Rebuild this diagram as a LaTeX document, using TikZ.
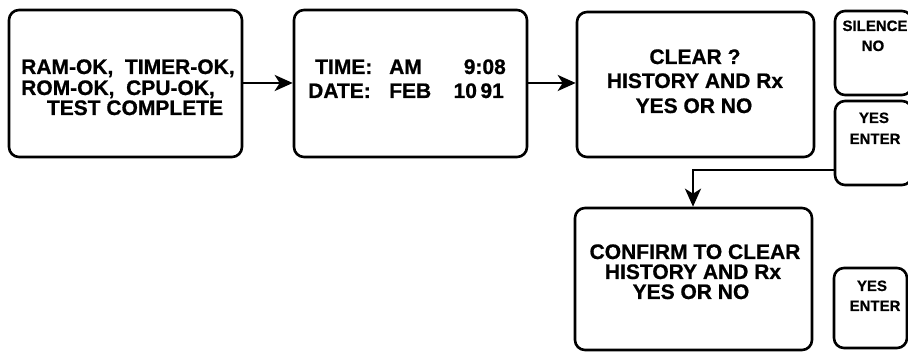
\documentclass[tikz,border=0pt]{standalone}
\usepackage{fontspec}
\newfontfamily\lblfont[FakeBold=0.8]{Liberation Sans Bold}
\usetikzlibrary{arrows.meta}
\tikzset{
  box/.style={draw, line width=2.6pt, rounded corners=10pt, inner sep=0pt},
  txt/.style={inner sep=0pt, font=\lblfont\fontsize{21}{22}\selectfont},
  stxt/.style={inner sep=0pt, font=\lblfont\fontsize{15}{16}\selectfont},
  arr/.style={line width=2.6pt, -{Stealth[length=18pt,width=16pt,inset=5pt]}}
}
\begin{document}
\begin{tikzpicture}[x=1pt,y=-1pt]
\useasboundingbox (0,0) rectangle (908,352);
\clip (0,0) rectangle (908,352);
% boxes
\node[box, minimum width=233pt, minimum height=147pt] (b1) at (125.5,83.5) {};
\node[box, minimum width=233pt, minimum height=147pt] (b2) at (410.5,83.5) {};
\node[box, minimum width=237pt, minimum height=145pt] (b3) at (695.5,84.5) {};
\node[box, minimum width=237pt, minimum height=142pt] (b4) at (693.5,279) {};
\node[box, minimum width=77pt, minimum height=84pt] (s1) at (873.5,53) {};
\node[box, minimum width=77pt, minimum height=84pt] (s2) at (873.5,143) {};
\node[box, minimum width=73pt, minimum height=80pt] (s3) at (870.5,308) {};
% box 1 text
\node[txt, anchor=base west] (t11) at (21,74) {RAM-OK,\ \ TIMER-OK,};
\node[txt, anchor=base west] (t12) at (21,95) {ROM-OK,\ \ CPU-OK,};
\node[txt, anchor=base] (t13) at (135,115) {TEST COMPLETE};
% box 2 text
\node[txt, anchor=base west] (t21) at (315,74) {TIME:};
\node[txt, anchor=base west] (t22) at (389,74) {AM};
\node[txt, anchor=base east] (t23) at (506,74) {9:08};
\node[txt, anchor=base west] (t24) at (308,98) {DATE:};
\node[txt, anchor=base west] (t25) at (389,98) {FEB};
\node[txt, anchor=base east] (t26) at (504,98) {10\,91};
% box 3 text
\node[txt, anchor=base] (t31) at (695,64) {CLEAR ?};
\node[txt, anchor=base] (t32) at (695,88) {HISTORY AND Rx};
\node[txt, anchor=base] (t33) at (694,113) {YES OR NO};
% box 4 text
\node[txt, anchor=base] (t41) at (695,259) {CONFIRM TO CLEAR};
\node[txt, anchor=base] (t42) at (693,279) {HISTORY AND Rx};
\node[txt, anchor=base] (t43) at (691,299) {YES OR NO};
% small boxes text
\node[stxt, anchor=base] (u1) at (875,31) {SILENCE};
\node[stxt, anchor=base] (u2) at (873,51) {NO};
\node[stxt, anchor=base] (u3) at (874,123) {YES};
\node[stxt, anchor=base] (u4) at (875,144) {ENTER};
\node[stxt, anchor=base] (u5) at (872,291) {YES};
\node[stxt, anchor=base] (u6) at (875,311) {ENTER};
% connectors
\coordinate (c1) at (0,170);
\coordinate (c2) at (693,0);
\draw[arr] (b1.east |- 0,83) -- (b2.west |- 0,83);
\draw[arr] (b2.east |- 0,83) -- (b3.west |- 0,83);
\draw[arr] (s2.west |- c1) -- (c2 |- c1) -- (c2 |- b4.north);
\end{tikzpicture}
\end{document}
